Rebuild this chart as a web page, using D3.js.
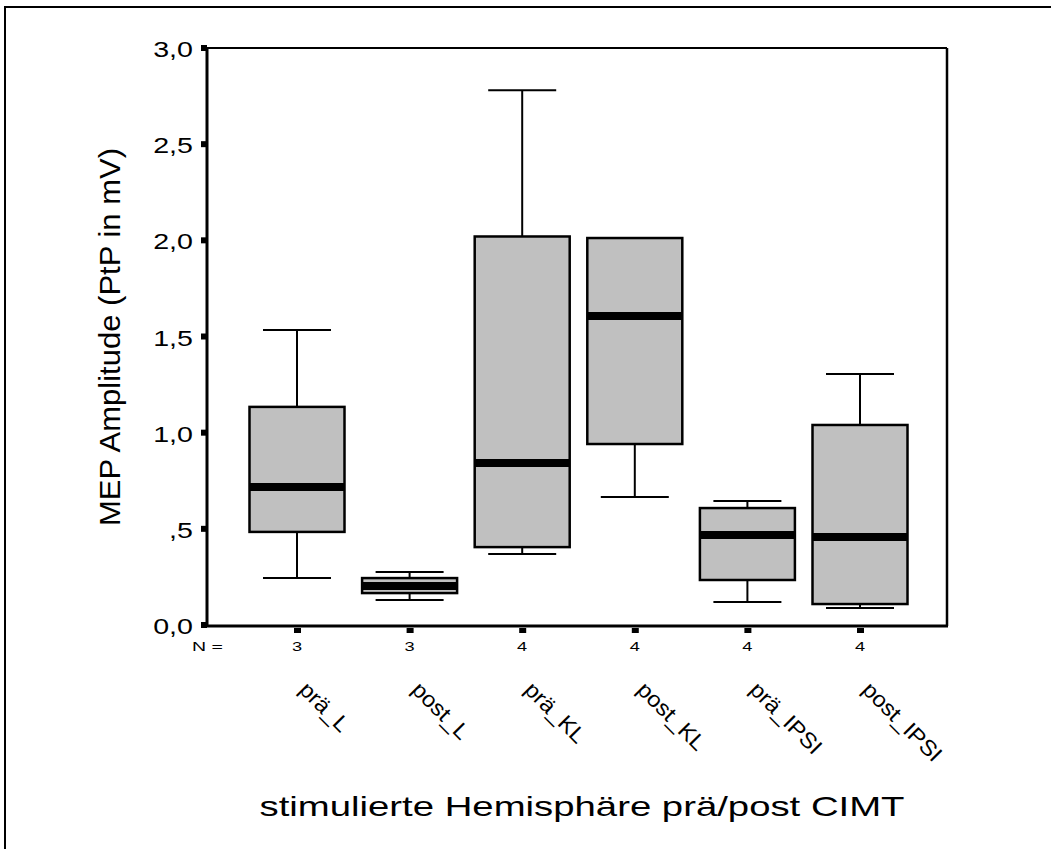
<!DOCTYPE html>
<html>
<head>
<meta charset="UTF-8">
<title>MEP Amplitude Boxplot</title>
<style>
body { margin:0; background:#fff; }
svg { display:block; font-family:"Liberation Sans", Arial, sans-serif; }
</style>
</head>
<body>
<svg width="1051" height="849"></svg>
<script src="https://cdn.jsdelivr.net/npm/d3@7"></script>
<script>
// data
const categories = ['prä_L','post_L','prä_KL','post_KL','prä_IPSI','post_IPSI'];
const nCounts   = [3, 3, 4, 4, 4, 4];
const whiskLo   = [0.244, 0.13, 0.369, 0.666, 0.12, 0.088];
const q1        = [0.484, 0.166, 0.405, 0.941, 0.234, 0.109];
const median    = [0.718, 0.203, 0.842, 1.607, 0.468, 0.458];
const q3        = [1.134, 0.244, 2.02, 2.012, 0.608, 1.04];
const whiskHi   = [1.534, 0.276, 2.78, 2.012, 0.645, 1.305];
const yTicks = [0, 0.5, 1, 1.5, 2, 2.5, 3];
const yTickLabels = ['0,0', ',5', '1,0', '1,5', '2,0', '2,5', '3,0'];

const svg = d3.select('svg');
const pLeft = 207, pRight = 947, pTop = 48, pBottom = 625;

const y = d3.scaleLinear().domain([0, 3]).range([pBottom, pTop]);
const x = d3.scalePoint().domain(categories).range([297, 860]);
const boxW = 95, capW = 68;

const rows = categories.map((c, i) => ({
  cat: c, lo: whiskLo[i], q1: q1[i], med: median[i], q3: q3[i], hi: whiskHi[i]
}));

// the old SPSS output has wide lettering, stretch text a bit
function stretch(sel, k) {
  sel.each(function() {
    const w = this.getComputedTextLength();
    d3.select(this).attr('textLength', w * k).attr('lengthAdjust', 'spacingAndGlyphs');
  });
}

// outer frame
svg.append('path').attr('d', 'M5,849 V7 H1051')
  .attr('fill', 'none').attr('stroke', '#000').attr('stroke-width', 2);

// plot frame
svg.append('line').attr('x1', pLeft).attr('x2', pRight).attr('y1', pTop).attr('y2', pTop)
  .attr('stroke', '#000').attr('stroke-width', 2);
svg.append('line').attr('x1', pRight).attr('x2', pRight).attr('y1', pTop).attr('y2', pBottom + 1)
  .attr('stroke', '#000').attr('stroke-width', 2.5);
svg.append('line').attr('x1', pLeft).attr('x2', pRight + 1).attr('y1', pBottom + 1).attr('y2', pBottom + 1)
  .attr('stroke', '#000').attr('stroke-width', 3);
svg.append('line').attr('x1', pLeft).attr('x2', pLeft).attr('y1', pTop).attr('y2', pBottom + 2)
  .attr('stroke', '#000').attr('stroke-width', 3);

// y ticks
const yAxis = svg.append('g');
yAxis.selectAll('rect').data(yTicks).enter().append('rect')
  .attr('x', pLeft - 6).attr('y', d => y(d) - 3).attr('width', 6).attr('height', 6).attr('fill', '#000');
yAxis.selectAll('text').data(yTicks).enter().append('text')
  .attr('x', pLeft - 14).attr('y', d => y(d) + 9)
  .attr('text-anchor', 'end').attr('font-size', 22)
  .text((d, i) => yTickLabels[i])
  .call(stretch, 1.3);

// x ticks
svg.append('g').selectAll('rect').data(categories).enter().append('rect')
  .attr('x', d => x(d) - 3).attr('y', pBottom + 3).attr('width', 7).attr('height', 5).attr('fill', '#000');

// N row
svg.append('text').attr('x', 192).attr('y', 651).attr('font-size', 13).text('N =').call(stretch, 1.5);
svg.append('g').selectAll('text').data(nCounts).enter().append('text')
  .attr('x', (d, i) => x(categories[i])).attr('y', 651)
  .attr('text-anchor', 'middle').attr('font-size', 13).text(d => d)
  .call(stretch, 1.4);

// category labels, rotated
svg.append('g').selectAll('text').data(categories).enter().append('text')
  .attr('transform', d => `translate(${x(d) + 1},${691}) rotate(45)`)
  .attr('font-size', 22).text(d => d)
  .call(stretch, 1.07);

// boxes
const boxes = svg.append('g').selectAll('g').data(rows).enter().append('g');
const withUpper = boxes.filter(d => d.hi > d.q3);
withUpper.append('line')
  .attr('x1', d => x(d.cat)).attr('x2', d => x(d.cat))
  .attr('y1', d => y(d.hi)).attr('y2', d => y(d.q3))
  .attr('stroke', '#000').attr('stroke-width', 2);
withUpper.append('line')
  .attr('x1', d => x(d.cat) - capW / 2).attr('x2', d => x(d.cat) + capW / 2)
  .attr('y1', d => y(d.hi)).attr('y2', d => y(d.hi))
  .attr('stroke', '#000').attr('stroke-width', 2);
boxes.append('line')
  .attr('x1', d => x(d.cat)).attr('x2', d => x(d.cat))
  .attr('y1', d => y(d.lo)).attr('y2', d => y(d.q1))
  .attr('stroke', '#000').attr('stroke-width', 2);
boxes.append('line')
  .attr('x1', d => x(d.cat) - capW / 2).attr('x2', d => x(d.cat) + capW / 2)
  .attr('y1', d => y(d.lo)).attr('y2', d => y(d.lo))
  .attr('stroke', '#000').attr('stroke-width', 2);
boxes.append('rect')
  .attr('x', d => x(d.cat) - boxW / 2).attr('width', boxW)
  .attr('y', d => y(d.q3)).attr('height', d => y(d.q1) - y(d.q3))
  .attr('fill', '#c0c0c0').attr('stroke', '#000').attr('stroke-width', 2.5);
boxes.append('line')
  .attr('x1', d => x(d.cat) - boxW / 2).attr('x2', d => x(d.cat) + boxW / 2)
  .attr('y1', d => y(d.med)).attr('y2', d => y(d.med))
  .attr('stroke', '#000').attr('stroke-width', 8);

// axis titles
svg.append('text')
  .attr('transform', 'translate(120,337) rotate(-90)')
  .attr('text-anchor', 'middle').attr('font-size', 30)
  .attr('textLength', 378).attr('lengthAdjust', 'spacingAndGlyphs')
  .text('MEP Amplitude (PtP in mV)');
svg.append('text')
  .attr('x', 582).attr('y', 816)
  .attr('text-anchor', 'middle').attr('font-size', 28)
  .attr('textLength', 645).attr('lengthAdjust', 'spacingAndGlyphs')
  .text('stimulierte Hemisphäre prä/post CIMT');
</script>
</body>
</html>
